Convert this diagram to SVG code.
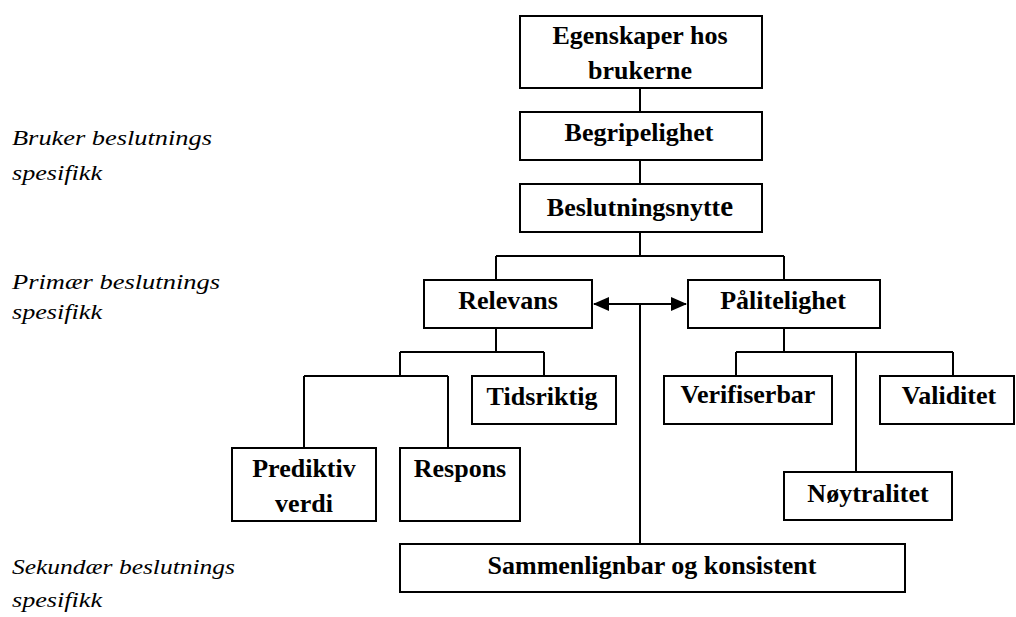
<svg xmlns="http://www.w3.org/2000/svg" width="1016" height="617" viewBox="0 0 1016 617">
<style>
.box{fill:#fff;stroke:#000;stroke-width:2}
.ln{fill:none;stroke:#000;stroke-width:2}
.t{font-family:"Liberation Serif","Times New Roman",serif;font-weight:bold;font-size:26px;fill:#000;text-anchor:middle}
.lab{font-family:"Liberation Serif","Times New Roman",serif;font-style:italic;font-size:21px;fill:#000}
</style>
<defs>
<marker id="ah" markerWidth="16" markerHeight="14" refX="15" refY="7" orient="auto-start-reverse" markerUnits="userSpaceOnUse">
<path d="M0,0 L16,7 L0,14 Z" fill="#000"/>
</marker>
</defs>
<rect width="1016" height="617" fill="#fff"/>
<g id="connectors">
<path class="ln" d="M640,88V112M640,160V184M640,232V256M496,256H784M496,256V280M784,256V280"/>
<path class="ln" d="M640,304V544"/>
<path class="ln" d="M594,304H686" marker-start="url(#ah)" marker-end="url(#ah)"/>
<path class="ln" d="M496,328V352M400,352H544M544,352V376M400,352V376M304,376H448M304,376V448M448,376V448"/>
<path class="ln" d="M784,328V352M736,352H953M736,352V376M953,352V376M856,352V472"/>
</g>
<g id="labels">
<text class="lab" x="12" y="145" textLength="200" lengthAdjust="spacingAndGlyphs">Bruker beslutnings</text>
<text class="lab" x="12" y="180" textLength="90" lengthAdjust="spacingAndGlyphs">spesifikk</text>
<text class="lab" x="12" y="289" textLength="208" lengthAdjust="spacingAndGlyphs">Primær beslutnings</text>
<text class="lab" x="12" y="319" textLength="90" lengthAdjust="spacingAndGlyphs">spesifikk</text>
<text class="lab" x="12" y="574" textLength="223" lengthAdjust="spacingAndGlyphs">Sekundær beslutnings</text>
<text class="lab" x="12" y="607" textLength="90" lengthAdjust="spacingAndGlyphs">spesifikk</text>
</g>
<g id="egenskaper">
<rect class="box" x="520" y="16" width="242" height="72"/>
<text class="t" x="640" y="44">Egenskaper hos</text>
<text class="t" x="640" y="79">brukerne</text>
</g>
<g id="begripelighet">
<rect class="box" x="520" y="112" width="242" height="48"/>
<text class="t" x="639" y="141">Begripelighet</text>
</g>
<g id="beslutningsnytte">
<rect class="box" x="520" y="184" width="242" height="48"/>
<text class="t" x="640" y="216">Beslutningsnytt<tspan font-size="29">e</tspan></text>
</g>
<g id="relevans">
<rect class="box" x="424" y="280" width="168" height="48"/>
<text class="t" x="508" y="309">Relevans</text>
</g>
<g id="palitelighet">
<rect class="box" x="688" y="280" width="192" height="48"/>
<text class="t" x="783" y="309">Pålitelighet</text>
</g>
<g id="tidsriktig">
<rect class="box" x="472" y="376" width="144" height="48"/>
<text class="t" x="542" y="405">Tidsriktig</text>
</g>
<g id="verifiserbar">
<rect class="box" x="664" y="376" width="168" height="48"/>
<text class="t" x="748" y="403">Verifiserbar</text>
</g>
<g id="validitet">
<rect class="box" x="880" y="376" width="134" height="48"/>
<text class="t" x="949" y="404">Validitet</text>
</g>
<g id="noytralitet">
<rect class="box" x="784" y="472" width="168" height="48"/>
<text class="t" x="868" y="502">Nøytralitet</text>
</g>
<g id="prediktiv">
<rect class="box" x="232" y="448" width="144" height="73"/>
<text class="t" x="304" y="477">Prediktiv</text>
<text class="t" x="304" y="512">verdi</text>
</g>
<g id="respons">
<rect class="box" x="400" y="448" width="120" height="73"/>
<text class="t" x="460" y="477">Respons</text>
</g>
<g id="sammenlignbar">
<rect class="box" x="400" y="544" width="505" height="48"/>
<text class="t" x="652" y="574">Sammenlignbar og konsistent</text>
</g>
</svg>
